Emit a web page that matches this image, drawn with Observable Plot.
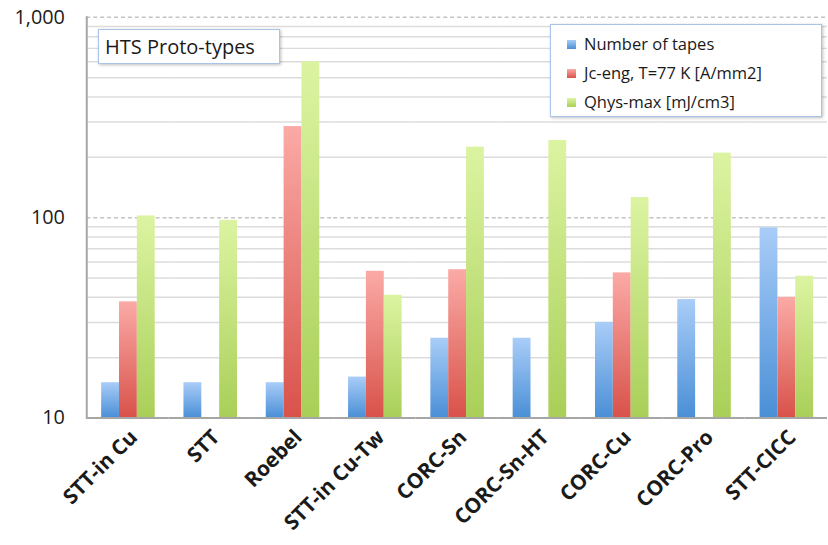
<!DOCTYPE html>
<html><head><meta charset="utf-8">
<script src="https://cdn.jsdelivr.net/npm/d3@7"></script>
<script src="https://cdn.jsdelivr.net/npm/@observablehq/plot@0.6"></script>
<style>
html,body{margin:0;padding:0;overflow:hidden;background:#fff;}
#wrap{position:relative;width:828px;height:545px;overflow:hidden;}
.box{position:absolute;background:#fff;border:1px solid #a9c4e6;box-shadow:1px 1px 3px rgba(0,0,0,0.25);font-family:"Open Sans",sans-serif;color:#1a1a1a;box-sizing:border-box;}
.title{left:98px;top:29px;width:182px;height:35px;font-size:20px;line-height:33px;padding-left:6px;}
.legend{left:550px;top:24px;width:272px;height:93px;font-size:16.5px;}
.legend .row{position:absolute;left:16px;height:29px;line-height:29px;white-space:nowrap;}
.legend .sw{display:inline-block;width:9px;height:9px;margin-right:8px;vertical-align:1px;}
</style></head><body><div id="wrap"></div>
<script>
const categories = ["STT-in Cu","STT","Roebel","STT-in Cu-Tw","CORC-Sn","CORC-Sn-HT","CORC-Cu","CORC-Pro","STT-CICC"];
const seriesNames = ["Number of tapes","Jc-eng, T=77 K [A/mm2]","Qhys-max [mJ/cm3]"];
const numberOfTapes = [15,15,15,16,25,25,30,39,89];
const jcEng = [38,null,285,54,55,null,53,null,40];
const qhysMax = [102,97,600,41,225,243,126,210,51];
const yTicks = [10,100,1000];
const minorGrid = [20,30,40,50,60,70,80,90,200,300,400,500,600,700,800,900];
const gradients = [
  {id:"gBlue", top:"#a9cdf8", bottom:"#4a8fd6"},
  {id:"gRed", top:"#fbaaa6", bottom:"#d8524a"},
  {id:"gGreen", top:"#dcf4a2", bottom:"#a9cf58"}
];

const seriesValues = [numberOfTapes, jcEng, qhysMax];
const rows = [];
seriesValues.forEach((vals, s) => vals.forEach((v, i) => {
  if (v != null) rows.push({cat: categories[i], series: seriesNames[s], value: v});
}));

const defs = () => {
  const d = d3.create("svg:defs");
  gradients.forEach(g => {
    const lg = d.append("linearGradient").attr("id", g.id).attr("x1",0).attr("y1",0).attr("x2",0).attr("y2",1);
    lg.append("stop").attr("offset","0%").attr("stop-color",g.top);
    lg.append("stop").attr("offset","100%").attr("stop-color",g.bottom);
  });
  return d.node();
};

const chart = Plot.plot({
  width: 835,
  height: 545,
  marginLeft: 85,
  marginRight: 0,
  marginTop: 17,
  marginBottom: 124,
  style: {fontFamily: "'Open Sans', sans-serif", color: "#1a1a1a", background: "#fff"},
  fx: {domain: categories, paddingInner: 0, paddingOuter: 0, label: null},
  x: {domain: seriesNames, paddingInner: 0, paddingOuter: 0.76, axis: null},
  y: {type: "log", domain: [10, 1000], label: null},
  marks: [
    defs,
    Plot.ruleY(minorGrid, {stroke: "#dcdcdc", strokeWidth: 1.5}),
    Plot.ruleY([100, 1000], {stroke: "#c4c4c4", strokeWidth: 1.5, strokeDasharray: "4,3"}),
    ...seriesNames.map((s, k) => Plot.barY(rows.filter(r => r.series === s), {
      fx: "cat", x: "series", y1: 10, y2: "value", fill: `url(#${gradients[k].id})`
    })),
    Plot.ruleY([10], {stroke: "#a6a6a6", strokeWidth: 2}),
    Plot.frame({anchor: "left", facet: "super", stroke: "#a6a6a6", strokeWidth: 2}),
    Plot.axisY(yTicks, {tickFormat: ",", tickSize: 0, tickPadding: 22, fontSize: 20, label: null}),
    Plot.axisFx({anchor: "bottom", tickRotate: -45, tickSize: 0, tickPadding: 16, dx: 6, fontSize: 21, fontWeight: "bold", label: null})
  ]
});

const wrap = document.getElementById("wrap");
wrap.appendChild(chart);
const title = document.createElement("div");
title.className = "box title";
title.textContent = "HTS Proto-types";
wrap.appendChild(title);
const legend = document.createElement("div");
legend.className = "box legend";
seriesNames.forEach((s, k) => {
  const r = document.createElement("div");
  r.className = "row";
  r.style.top = (4 + 29 * k) + "px";
  r.innerHTML = `<span class="sw" style="background:linear-gradient(${gradients[k].top},${gradients[k].bottom})"></span>`;
  r.appendChild(document.createTextNode(s));
  legend.appendChild(r);
});
wrap.appendChild(legend);
</script></body></html>
